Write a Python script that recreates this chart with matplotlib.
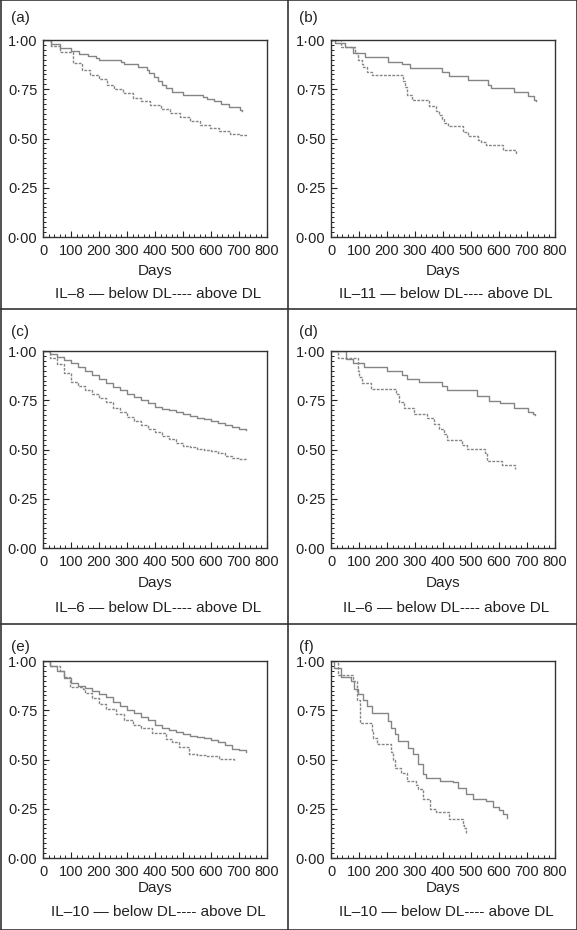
import matplotlib
matplotlib.use("Agg")
import matplotlib.pyplot as plt
from matplotlib.ticker import MultipleLocator
from matplotlib.lines import Line2D

plt.rcParams['font.family'] = ['Liberation Sans', 'DejaVu Sans']

# ---- data (days, survival) ----
a_below_days = [0, 30, 60, 100, 130, 160, 190, 200, 280, 290, 340, 370, 380, 395, 410, 425,
                440, 460, 500, 570, 585, 610, 635, 665, 705, 710]
a_below_surv = [1.0, 0.98, 0.96, 0.945, 0.93, 0.92, 0.91, 0.90, 0.89, 0.88, 0.865, 0.85, 0.83,
                0.81, 0.79, 0.77, 0.755, 0.735, 0.72, 0.71, 0.70, 0.69, 0.675, 0.66, 0.645, 0.64]
a_above_days = [0, 30, 61, 107, 140, 168, 200, 227, 255, 286, 320, 350, 382, 420, 454, 490,
                525, 560, 596, 630, 668, 700, 730]
a_above_surv = [1.0, 0.97, 0.94, 0.882, 0.85, 0.823, 0.80, 0.773, 0.75, 0.73, 0.705, 0.69,
                0.672, 0.65, 0.63, 0.61, 0.587, 0.57, 0.555, 0.54, 0.525, 0.518, 0.512]

b_below_days = [0, 15, 50, 80, 122, 204, 253, 282, 395, 420, 488, 560, 571, 655, 702, 726, 733]
b_below_surv = [1.0, 0.983, 0.962, 0.935, 0.916, 0.89, 0.879, 0.857, 0.838, 0.815, 0.798,
                0.773, 0.756, 0.734, 0.714, 0.697, 0.69]
b_above_days = [0, 35, 86, 98, 110, 115, 130, 145, 258, 265, 272, 290, 350, 376, 385, 395,
                405, 417, 470, 488, 524, 535, 554, 614, 661]
b_above_surv = [1.0, 0.966, 0.933, 0.90, 0.88, 0.865, 0.84, 0.823, 0.79, 0.76, 0.722, 0.695,
                0.667, 0.64, 0.62, 0.60, 0.58, 0.562, 0.535, 0.512, 0.49, 0.48, 0.465, 0.44, 0.42]

c_days = [0, 25, 50, 75, 100, 125, 150, 175, 200, 225, 250, 275, 300, 325, 350, 375, 400,
          425, 450, 475, 500, 525, 550, 575, 600, 625, 650, 675, 700, 725]
c_below_surv = [1.0, 0.985, 0.97, 0.955, 0.94, 0.92, 0.90, 0.88, 0.86, 0.84, 0.815, 0.80,
                0.78, 0.765, 0.75, 0.735, 0.715, 0.705, 0.70, 0.69, 0.68, 0.67, 0.66, 0.655,
                0.645, 0.635, 0.625, 0.615, 0.605, 0.60]
c_above_surv = [1.0, 0.965, 0.935, 0.89, 0.845, 0.82, 0.80, 0.78, 0.76, 0.74, 0.71, 0.69,
                0.665, 0.645, 0.625, 0.605, 0.59, 0.57, 0.555, 0.535, 0.52, 0.515, 0.505,
                0.495, 0.49, 0.48, 0.465, 0.455, 0.45, 0.445]

d_below_days = [0, 53, 77, 118, 201, 255, 273, 314, 397, 415, 521, 563, 604, 652, 705, 723, 728]
d_below_surv = [1.0, 0.96, 0.94, 0.918, 0.90, 0.88, 0.86, 0.843, 0.82, 0.803, 0.774, 0.747,
                0.735, 0.712, 0.69, 0.68, 0.675]
d_above_days = [0, 24, 95, 100, 112, 142, 231, 243, 261, 296, 344, 367, 385, 403, 415, 468,
                486, 551, 557, 610, 658]
d_above_surv = [1.0, 0.966, 0.90, 0.87, 0.84, 0.808, 0.78, 0.74, 0.709, 0.678, 0.66, 0.63,
                0.606, 0.58, 0.546, 0.525, 0.503, 0.48, 0.443, 0.423, 0.40]

e_below_days = [0, 25, 50, 75, 100, 125, 150, 175, 200, 225, 250, 275, 300, 325, 350, 375,
                400, 425, 450, 475, 500, 525, 550, 575, 600, 625, 650, 675, 700, 725]
e_below_surv = [1.0, 0.975, 0.95, 0.915, 0.89, 0.875, 0.865, 0.85, 0.835, 0.815, 0.79, 0.77,
                0.75, 0.735, 0.715, 0.70, 0.675, 0.66, 0.65, 0.64, 0.63, 0.62, 0.615, 0.61,
                0.60, 0.59, 0.575, 0.555, 0.55, 0.54]
e_above_days = [0, 25, 59, 75, 95, 142, 150, 175, 201, 225, 261, 290, 320, 350, 391, 438,
                460, 486, 521, 550, 581, 628, 681]
e_above_surv = [1.0, 0.975, 0.95, 0.92, 0.87, 0.86, 0.84, 0.81, 0.78, 0.755, 0.73, 0.70,
                0.675, 0.66, 0.632, 0.606, 0.59, 0.563, 0.53, 0.525, 0.52, 0.503, 0.49]

f_below_days = [0, 12, 36, 71, 83, 95, 114, 130, 148, 203, 215, 228, 240, 274, 293, 310, 328,
                340, 388, 434, 452, 483, 506, 554, 577, 600, 615, 628]
f_below_surv = [1.0, 0.966, 0.92, 0.90, 0.86, 0.83, 0.80, 0.77, 0.735, 0.697, 0.66, 0.63,
                0.595, 0.56, 0.528, 0.477, 0.426, 0.405, 0.39, 0.385, 0.355, 0.323, 0.297,
                0.287, 0.26, 0.246, 0.225, 0.205]
f_above_days = [0, 24, 80, 92, 103, 145, 150, 163, 216, 221, 228, 250, 270, 303, 310, 328,
                352, 376, 423, 470, 476, 483]
f_above_surv = [1.0, 0.93, 0.90, 0.80, 0.687, 0.64, 0.61, 0.578, 0.54, 0.50, 0.457, 0.43,
                0.39, 0.37, 0.35, 0.30, 0.25, 0.235, 0.20, 0.17, 0.15, 0.125]

panels = [
    ("(a)", "IL–8", a_below_days, a_below_surv, a_above_days, a_above_surv),
    ("(b)", "IL–11", b_below_days, b_below_surv, b_above_days, b_above_surv),
    ("(c)", "IL–6", c_days, c_below_surv, c_days, c_above_surv),
    ("(d)", "IL–6", d_below_days, d_below_surv, d_above_days, d_above_surv),
    ("(e)", "IL–10", e_below_days, e_below_surv, e_above_days, e_above_surv),
    ("(f)", "IL–10", f_below_days, f_below_surv, f_above_days, f_above_surv),
]

x_ticks = [0, 100, 200, 300, 400, 500, 600, 700, 800]
y_ticks = [0.0, 0.25, 0.5, 0.75, 1.0]
y_ticklabels = ["0·00", "0·25", "0·50", "0·75", "1·00"]

W, H = 577, 930
fig = plt.figure(figsize=(W / 100, H / 100), dpi=100)

# panel layout in pixels
col_left = [43, 331]
cell_left = [0, 288]
row_top = [40, 351, 661]
cell_top = [0, 309, 624]
days_y = [271, 583, 888]
cap_y = [294, 608, 912]
ax_w, ax_h = 224, 197

line_col = "#858585"

for i, (tag, name, bd, bs, ad, asv) in enumerate(panels):
    r, c = divmod(i, 2)
    left = col_left[c]
    top = row_top[r]
    ax = fig.add_axes([left / W, 1 - (top + ax_h) / H, ax_w / W, ax_h / H])
    ax.plot(bd, bs, drawstyle="steps-post", color=line_col, lw=1.0)
    ax.plot(ad, asv, drawstyle="steps-post", color=line_col, lw=1.0,
            linestyle=(0, (2, 1)))
    ax.set_xlim(0, 800)
    ax.set_ylim(0, 1)
    ax.set_xticks(x_ticks)
    ax.set_xticklabels([str(t) for t in x_ticks])
    ax.set_yticks(y_ticks)
    ax.set_yticklabels(y_ticklabels)
    ax.xaxis.set_minor_locator(MultipleLocator(20))
    ax.yaxis.set_minor_locator(MultipleLocator(0.025))
    ax.tick_params(which="both", direction="in", labelsize=10.5, colors="#222222")
    ax.tick_params(axis="x", pad=5)
    ax.tick_params(axis="y", pad=4)
    ax.tick_params(which="major", length=4, width=0.8)
    ax.tick_params(which="minor", length=2, width=0.7)
    for s in ax.spines.values():
        s.set_color("#333333")
        s.set_linewidth(1.0)

    cx = (left + ax_w / 2) / W
    fig.text((cell_left[c] + 11) / W, 1 - (cell_top[r] + (18 if r == 0 else 23)) / H, tag,
             fontsize=11, va="center", ha="left", color="#222222")
    fig.text(cx, 1 - days_y[r] / H, "Days", fontsize=11, ha="center", va="center",
             color="#222222")
    fig.text(cx + 3 / W, 1 - cap_y[r] / H, name + " — below DL---- above DL",
             fontsize=11, ha="center", va="center", color="#222222")

# panel frame lines
frame = "#333333"
for xp in [0.5, 288, 576.5]:
    fig.add_artist(Line2D([xp / W, xp / W], [0, 1], color=frame, lw=1.2))
for yp in [0.5, 309, 624, 929.5]:
    fig.add_artist(Line2D([0, 1], [1 - yp / H, 1 - yp / H], color=frame, lw=1.2))

fig.savefig("out.png", dpi=100)
